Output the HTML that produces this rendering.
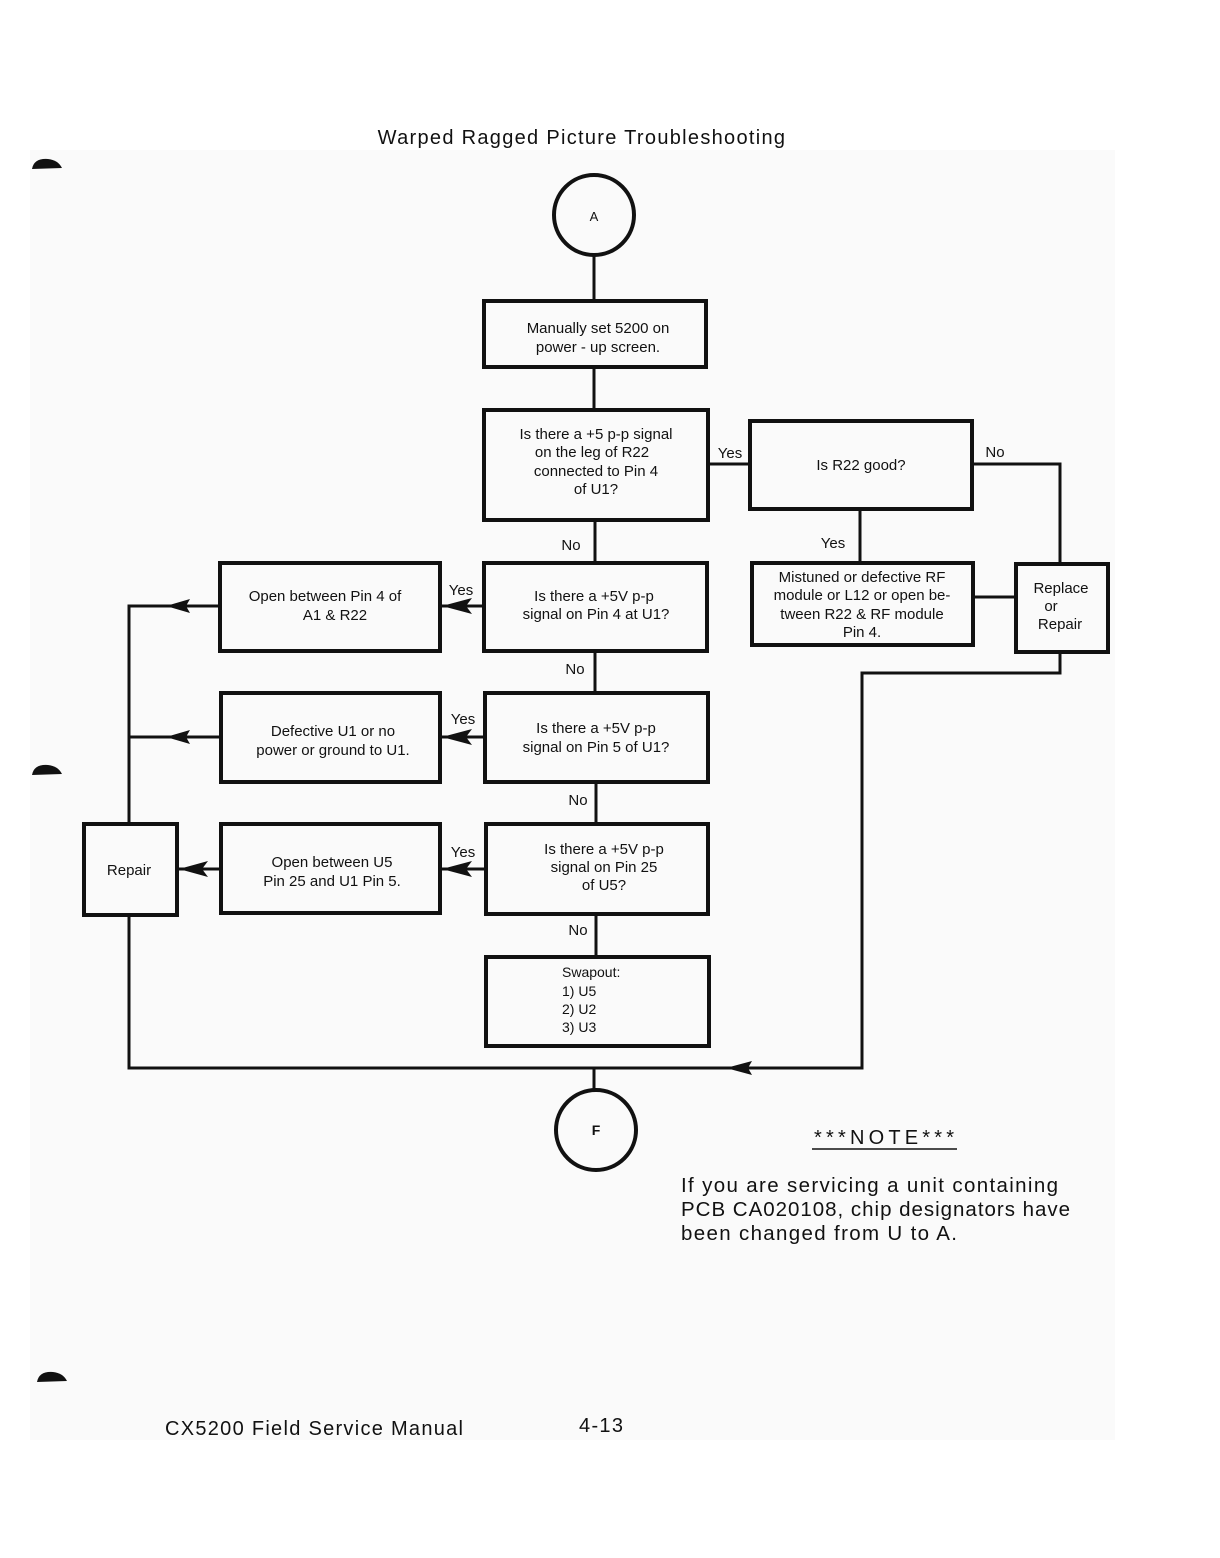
<!DOCTYPE html>
<html><head><meta charset="utf-8"><style>
html,body{margin:0;padding:0;background:#fff}
svg{display:block}
text{font-family:"Liberation Sans",sans-serif;fill:#111}
</style></head><body>
<svg width="1220" height="1558" viewBox="0 0 1220 1558" xmlns="http://www.w3.org/2000/svg">
<rect x="30" y="150" width="1085" height="1290" fill="#fafafa"/>
<path d="M32 169 Q34 158 48 159 Q58 160 62 168 Z" fill="#111"/>
<path d="M32 775 Q34 764 48 765 Q58 766 62 774 Z" fill="#111"/>
<path d="M37 1382 Q39 1371 53 1372 Q63 1373 67 1381 Z" fill="#111"/>
<text x="582" y="144" font-size="20" text-anchor="middle" letter-spacing="1.3">Warped Ragged Picture Troubleshooting</text>
<g stroke="#111" fill="none" stroke-width="4">
<circle cx="594" cy="215" r="40"/>
<circle cx="596" cy="1130" r="40"/>
<rect x="484" y="301" width="222" height="66"/>
<rect x="484" y="410" width="224" height="110"/>
<rect x="750" y="421" width="222" height="88"/>
<rect x="752" y="563" width="221" height="82"/>
<rect x="1016" y="564" width="92" height="88"/>
<rect x="484" y="563" width="223" height="88"/>
<rect x="220" y="563" width="220" height="88"/>
<rect x="485" y="693" width="223" height="89"/>
<rect x="221" y="693" width="219" height="89"/>
<rect x="486" y="824" width="222" height="90"/>
<rect x="221" y="824" width="219" height="89"/>
<rect x="84" y="824" width="93" height="91"/>
<rect x="486" y="957" width="223" height="89"/>
</g>
<g stroke="#111" fill="none" stroke-width="3">
<path d="M594 255V301M594 367V410M595 520V563M595 651V693M596 782V824M596 914V957"/>
<path d="M708 464H750M972 464H1060V564M860 509V563M973 597H1016"/>
<path d="M1060 652V673H862V1068H129V915M594 1068V1090"/>
<path d="M129 823V606H220M129 737H221"/>
<path d="M484 606H440M485 737H440M486 869H440M221 869H177"/>
</g>
<g fill="#111">
<path d="M166 606 L190 599 L186 606 L190 613Z"/>
<path d="M166 737 L190 730 L186 737 L190 744Z"/>
<path d="M442 606 L472 598 L466 606 L472 614Z"/>
<path d="M442 737 L472 729 L466 737 L472 745Z"/>
<path d="M442 869 L472 861 L466 869 L472 877Z"/>
<path d="M179 869 L208 861 L202 869 L208 877Z"/>
<path d="M726 1068 L752 1061 L748 1068 L752 1075Z"/>
</g>
<g font-size="15" text-anchor="middle">
<text x="594" y="221" font-size="13">A</text>
<text x="596" y="1135" font-size="14" font-weight="bold">F</text>
<text x="598" y="333">Manually set 5200 on</text>
<text x="598" y="352">power - up screen.</text>
<text x="596" y="439">Is there a +5 p-p signal</text>
<text x="592" y="457">on the leg of R22</text>
<text x="596" y="476">connected to Pin 4</text>
<text x="596" y="494">of U1?</text>
<text x="730" y="458">Yes</text>
<text x="861" y="470">Is R22  good?</text>
<text x="995" y="457">No</text>
<text x="833" y="548">Yes</text>
<text x="862" y="582">Mistuned or defective RF</text>
<text x="862" y="600">module or L12 or open be-</text>
<text x="862" y="619">tween R22 &amp; RF module</text>
<text x="862" y="637">Pin 4.</text>
<text x="1061" y="593">Replace</text>
<text x="1051" y="611">or</text>
<text x="1060" y="629">Repair</text>
<text x="571" y="550">No</text>
<text x="594" y="601">Is there a +5V p-p</text>
<text x="596" y="619">signal on Pin 4 at U1?</text>
<text x="461" y="595">Yes</text>
<text x="325" y="601">Open between Pin 4 of</text>
<text x="335" y="620">A1  &amp;  R22</text>
<text x="575" y="674">No</text>
<text x="596" y="733">Is there a +5V p-p</text>
<text x="596" y="752">signal on Pin 5 of U1?</text>
<text x="463" y="724">Yes</text>
<text x="333" y="736">Defective U1 or no</text>
<text x="333" y="755">power or ground to U1.</text>
<text x="578" y="805">No</text>
<text x="604" y="854">Is there a +5V p-p</text>
<text x="604" y="872">signal on Pin 25</text>
<text x="604" y="890">of U5?</text>
<text x="463" y="857">Yes</text>
<text x="332" y="867">Open between U5</text>
<text x="332" y="886">Pin 25 and U1 Pin 5.</text>
<text x="129" y="875">Repair</text>
<text x="578" y="935">No</text>
</g>
<g font-size="14">
<text x="562" y="977">Swapout:</text>
<text x="562" y="996">1) U5</text>
<text x="562" y="1014">2) U2</text>
<text x="562" y="1032">3) U3</text>
</g>
<text x="884" y="1144" font-size="20" text-anchor="middle" textLength="140">***NOTE***</text>
<line x1="812" y1="1149" x2="957" y2="1149" stroke="#111" stroke-width="1.5"/>
<g font-size="20.5">
<text x="681" y="1192" textLength="377">If you are servicing a unit containing</text>
<text x="681" y="1216" textLength="389">PCB CA020108, chip designators have</text>
<text x="681" y="1240" textLength="276">been changed from U to A.</text>
</g>
<text x="165" y="1435" font-size="20" textLength="298">CX5200 Field Service Manual</text>
<text x="579" y="1432" font-size="20" textLength="44">4-13</text>
</svg>
</body></html>
